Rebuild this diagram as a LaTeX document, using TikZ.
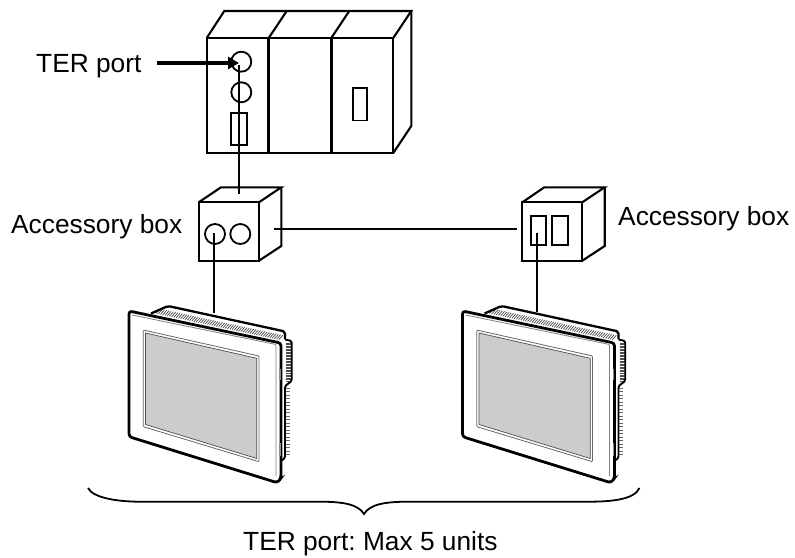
\documentclass[tikz,border=0pt]{standalone}
\usepackage{fontspec}
\setmainfont{Liberation Sans}
\usetikzlibrary{arrows.meta}
\frenchspacing
\definecolor{screengray}{gray}{0.8}
\definecolor{edgegray}{gray}{0.5}
\tikzset{
  x=1bp,y=-1bp,
  hw/.style={draw=black,line width=2.1pt,line join=miter},
  wire/.style={draw=black,line width=1.8pt},
  lab/.style={font=\fontsize{26.4}{30}\selectfont,inner sep=0pt,anchor=base west,text=black},
  port/.style={draw=black,line width=1.8pt,circle,minimum size=20bp,inner sep=0pt},
  slot/.style={draw=black,line width=1.8pt,rectangle,inner sep=0pt},
  pnl/.pic={
    % rear body with vents
    \fill[white] (151,313) -- (168,306) -- (283,331) -- (285,340) -- (292,341) -- (292,381) -- (285,386) -- (285,460) -- (278,472) -- (278,340) -- cycle;
    \foreach \t in {0,0.018,...,1.0}{
      \draw[black!70,line width=0.7pt] ({156+\t*124},{313.5+\t*26.5}) -- ({160+\t*124},{309+\t*26.5});
    }
    \foreach \t in {0,0.04,...,1.0}{
      \draw[black!70,line width=0.8pt] (286,{343+\t*38}) -- (291,{343+\t*38});
    }
    \foreach \t in {0,0.05,...,1.0}{
      \draw[black!60,line width=0.7pt] (285.5,{388+\t*70}) -- (289.5,{388+\t*70});
    }
    \draw[line width=2.3pt,rounded corners=2pt] (151,313.5) -- (168,306) -- (285,331.5) -- (285,339);
    \draw[line width=1.9pt,rounded corners=1.5pt] (285,339.5) -- (291.7,341) -- (291.7,381) -- (285,386) -- (285,458) -- (278,463);
    \draw[line width=0.9pt] (157,317) -- (281,343.5);
    % front frame
    \draw[fill=white,draw=none] (129,311) -- (280,342) -- (280,480) -- (129,436.7) -- cycle;
    \draw[line width=2.8pt,rounded corners=3pt] (277.3,342.3) -- (129,311) -- (129,436.7) -- (277.6,482.8) -- (281,478) -- (281,343) -- (277.3,342.3);
    \draw[edgegray,line width=0.8pt,rounded corners=1pt] (132,315) -- (276,344.5) -- (276,476);
    % bezel buttons
    \draw[black!45,line width=1.2pt] (280,369) -- (280,380);
    \draw[black!45,line width=1.2pt] (280,443) -- (280,456);
    % screen
    \draw[fill=white,draw=black!60,line width=0.8pt,rounded corners=1pt] (143.3,330) -- (259,356) -- (259,461.7) -- (143.3,426.7) -- cycle;
    \draw[fill=screengray,draw=black!70,line width=0.7pt] (145.5,333) -- (256.8,358.3) -- (256.8,458.5) -- (145.5,424.5) -- cycle;
  }
}
\begin{document}
\begin{tikzpicture}
\useasboundingbox (0,0) rectangle (795,558);
% PLC
\draw[hw] (206.7,38) rectangle (393.3,153);
\draw[hw] (206.7,38) -- (224.3,11) -- (411.3,11) -- (393.3,38);
\draw[hw] (411.3,11) -- (411.3,126) -- (393.3,153);
\draw[hw,line width=2.6pt] (268.7,38) -- (268.7,153);
\draw[hw,line width=2.6pt] (331.3,38) -- (331.3,153);
\draw[hw] (268.7,38) -- (286.7,11);
\draw[hw] (331.3,38) -- (349.3,11);
\node[port] (ter) at (241.3,61.7) {};
\node[port] (p2) at (241.3,92.3) {};
\node[slot,minimum width=16.5bp,minimum height=32.5bp] (s1) at (239.1,129) {};
\node[slot,minimum width=13.5bp,minimum height=32.5bp] (s2) at (360,104.3) {};
% Box 1
\draw[hw] (198.7,202.3) rectangle (259,260.7);
\draw[hw] (198.7,202.3) -- (221,187.3) -- (281.3,187.3) -- (259,202.3);
\draw[hw] (281.3,187.3) -- (281.3,246) -- (259,260.7);
\node[port] (c1) at (215,234) {};
\node[port] (c2) at (240.3,234) {};
% Box 2
\draw[hw] (522.3,202.3) rectangle (582.3,260.7);
\draw[hw] (522.3,202.3) -- (544.3,187.3) -- (604.7,187.3) -- (582.3,202.3);
\draw[hw] (604.7,187.3) -- (604.7,246) -- (582.3,260.7);
\node[slot,minimum width=15bp,minimum height=28.7bp] (r1) at (538.2,230.3) {};
\node[slot,minimum width=15.4bp,minimum height=28.7bp] (r2) at (560,230.3) {};
% Panels
\pic at (0,0) {pnl};
\pic at (333.5,0) {pnl};
% Connectors
\coordinate (a) at (239,65);
\coordinate (b) at (239,194);
\draw[wire] (a) -- (b);
\coordinate (h1) at (274,229);
\coordinate (h2) at (517,229);
\draw[wire] (h1) -- (h2);
\coordinate (d1) at (214,233);
\coordinate (d2) at (214,313);
\draw[wire] (d1) -- (d2);
\coordinate (e1) at (537.3,233);
\coordinate (e2) at (537.3,312);
\draw[wire] (e1) -- (e2);
% Arrow
\coordinate (as) at (157,63);
\coordinate (at) at (239,63);
\draw[line width=3.2pt,-{Triangle[length=11bp,width=12bp]}] (as) -- (at);
% Brace
\coordinate (bl) at (88,488);
\coordinate (br) at (639.5,488);
\coordinate (bt) at (364,514);
\draw[line width=1.8pt] (bl) .. controls (93,498) and (118,501.7) .. (140,501.7) -- (320,501.7) .. controls (342,501.7) and (358,504) .. (bt) .. controls (370,504) and (386,501.7) .. (408,501.7) -- (588,501.7) .. controls (610,501.7) and (634,500) .. (br);
% Labels
\node[lab] (l1) at (36,73) {TER port};
\node[lab] (l2) at (11,234) {Accessory box};
\node[lab] (l3) at (618,226) {Accessory box};
\node[lab] (l4) at (243,550) {TER port: Max 5 units};
\end{tikzpicture}
\end{document}
